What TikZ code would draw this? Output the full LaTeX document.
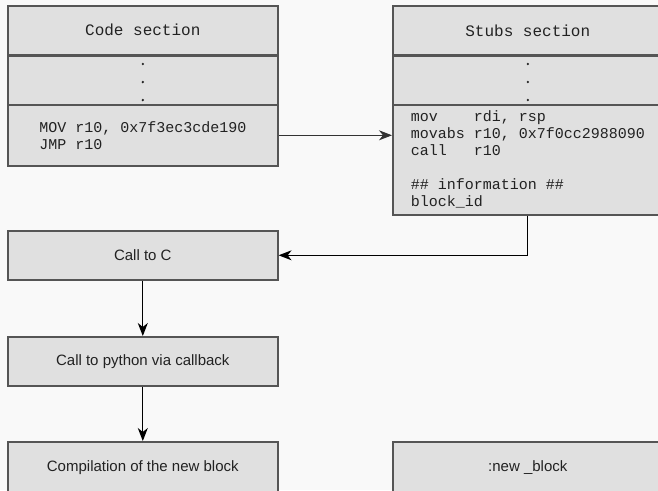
\documentclass[tikz,border=0pt]{standalone}
\usepackage{fontspec}
\setmainfont{Liberation Sans}
\setmonofont{Liberation Mono}
\usetikzlibrary{arrows.meta}
\definecolor{bg}{HTML}{F9F9F9}
\definecolor{boxfill}{HTML}{E0E0E0}
\definecolor{boxline}{HTML}{555555}
\definecolor{txt}{HTML}{222222}
\definecolor{wire}{HTML}{333333}
\tikzset{
  box/.style={draw=boxline, line width=1.6pt, fill=boxfill, text=txt, minimum width=270pt, inner sep=0pt, anchor=north west},
  codetxt/.style={font=\fontsize{15}{17}\selectfont\ttfamily, align=left, text=txt},
  headtxt/.style={font=\fontsize{16}{18}\selectfont\ttfamily, yshift=1pt},
  sanstxt/.style={font=\fontsize{15}{18}\selectfont},
  link/.style={draw=wire, line width=1.1pt, -{Stealth[length=13pt,width=10pt,inset=4pt]}}
}
\begin{document}
\begin{tikzpicture}[x=1pt,y=-1pt]
\fill[bg] (0,0) rectangle (658,490);
\useasboundingbox (0,0) rectangle (658,490);
\begin{scope}
\clip (0,0) rectangle (658,490);
% Code section
\node[box, minimum height=49pt, headtxt] (codehead) at (7,6) {Code section};
\node[box, minimum height=49pt] (codedots) at (7,55) {};
\node[box, minimum height=61pt, codetxt] (codebody) at (7,104) {MOV r10, 0x7f3ec3cde190\\JMP r10};
% Stubs section
\node[box, minimum height=49pt, headtxt] (stubhead) at (392,6) {Stubs section};
\node[box, minimum height=49pt] (stubdots) at (392,55) {};
\node[box, minimum height=110pt, codetxt] (stubbody) at (392,104) {mov\ \ \ \ rdi, rsp\\movabs r10, 0x7f0cc2988090\\call\ \ \ r10\\[17pt]\#\# information \#\#\\block\_id};
% dots
\foreach \b in {codedots,stubdots}{
  \foreach \yy in {9,27,45}{
    \fill[txt] ([yshift=-\yy pt]\b.north) circle[radius=1.3pt];
  }
}
% Flow boxes
\node[box, minimum height=49pt, sanstxt] (callc) at (7,230) {Call to C};
\node[box, minimum height=49pt, sanstxt] (callpy) at (7,336) {Call to python via callback};
\node[box, minimum height=51pt, sanstxt] (compile) at (7,441) {Compilation of the new block};
\node[box, minimum height=51pt, sanstxt] (newblock) at (392,441) {:new \_block};
% connectors
\draw[link] (codebody.east) -- (stubbody.west |- codebody.east);
\draw[link, draw=black] (stubbody.south) |- (callc.east);
\draw[link, draw=black] (callc.south) -- (callpy.north);
\draw[link, draw=black] (callpy.south) -- (compile.north);
\end{scope}
\end{tikzpicture}
\end{document}
